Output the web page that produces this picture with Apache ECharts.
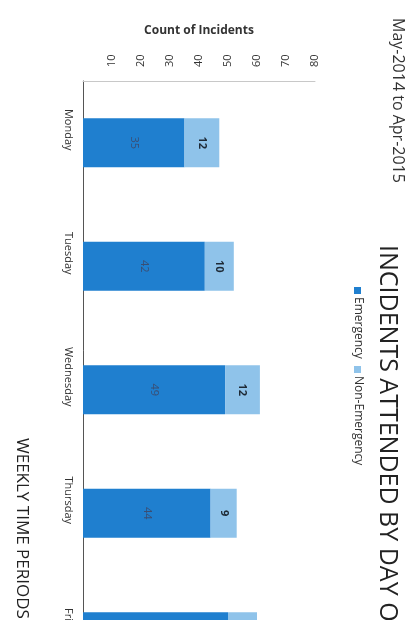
<!DOCTYPE html>
<html>
<head>
<meta charset="utf-8">
<script src="https://cdn.jsdelivr.net/npm/echarts@6/dist/echarts.min.js"></script>
<style>
html,body{margin:0;padding:0;background:#fff;}
#chart{width:414px;height:620px;}
</style>
</head>
<body>
<div id="chart"></div>
<script>
const categories = ['Monday', 'Tuesday', 'Wednesday', 'Thursday', 'Friday'];
const emergency = [35, 42, 49, 44, 50];
const nonEmergency = [12, 10, 12, 9, 10];
const valueMin = 0, valueMax = 80, valueStep = 10;
const titleText = 'INCIDENTS ATTENDED BY DAY OF WEEK';
const subtitleText = 'May-2014 to Apr-2015';
const valueAxisName = 'Count of Incidents';
const categoryAxisName = 'WEEKLY TIME PERIODS';
const seriesNames = ['Emergency', 'Non-Emergency'];
const colors = ['#1f7fcf', '#8fc3ea'];

const chart = echarts.init(document.getElementById('chart'));
const FONT = '"Open Sans", sans-serif';
const CW = -Math.PI / 2;

chart.setOption({
  animation: false,
  backgroundColor: '#ffffff',
  grid: { left: 83, top: 81, width: 232, height: 617.5, containLabel: false, outerBoundsMode: 'none' },
  xAxis: {
    type: 'value', position: 'top', min: valueMin, max: valueMax, interval: valueStep,
    name: valueAxisName, nameLocation: 'middle', nameGap: 44,
    nameTextStyle: { fontFamily: FONT, fontSize: 12, fontWeight: 'bold', color: '#333' },
    axisLine: { show: true, lineStyle: { color: '#c8c8c8', width: 1 } },
    axisTick: { show: false },
    splitLine: { show: false },
    axisLabel: {
      rotate: -90, margin: 14, fontFamily: FONT, fontSize: 11, color: '#333',
      formatter: v => (v === 0 ? '' : String(v))
    }
  },
  yAxis: {
    type: 'category', data: categories, inverse: true,
    axisLine: { show: true, lineStyle: { color: '#555', width: 1 } },
    axisTick: { show: false },
    axisLabel: { rotate: -90, margin: 9, fontFamily: FONT, fontSize: 11, color: '#333', padding: [0, 26, 0, 0] }
  },
  series: [
    {
      name: seriesNames[0], type: 'bar', stack: 'total', data: emergency, barWidth: 49,
      itemStyle: { color: colors[0] },
      label: { show: true, position: 'inside', rotate: -90, fontFamily: FONT, fontSize: 11, color: '#3a4e74' }
    },
    {
      name: seriesNames[1], type: 'bar', stack: 'total', data: nonEmergency, barWidth: 49,
      itemStyle: { color: colors[1] },
      label: { show: true, position: 'inside', rotate: -90, fontFamily: FONT, fontSize: 11, fontWeight: 'bold', color: '#1e2a36' }
    }
  ],
  graphic: [
    { type: 'text', x: 398, y: 18, rotation: CW,
      style: { text: subtitleText, font: '16px ' + FONT, fill: '#333', textAlign: 'left', textVerticalAlign: 'middle' } },
    { type: 'text', x: 387, y: 245, rotation: CW,
      style: { text: titleText, font: '25px ' + FONT, fill: '#222', textAlign: 'left', textVerticalAlign: 'middle' } },
    { type: 'rect', x: 354, y: 287, shape: { width: 7, height: 7 }, style: { fill: colors[0] } },
    { type: 'text', x: 358, y: 297, rotation: CW,
      style: { text: seriesNames[0], font: '12px ' + FONT, fill: '#333', textAlign: 'left', textVerticalAlign: 'middle' } },
    { type: 'rect', x: 354, y: 366, shape: { width: 7, height: 7 }, style: { fill: colors[1] } },
    { type: 'text', x: 358, y: 376, rotation: CW,
      style: { text: seriesNames[1], font: '12px ' + FONT, fill: '#333', textAlign: 'left', textVerticalAlign: 'middle' } },
    { type: 'text', x: 22, y: 438, rotation: CW,
      style: { text: categoryAxisName, font: '17px ' + FONT, fill: '#222', textAlign: 'left', textVerticalAlign: 'middle' } }
  ]
});
</script>
</body>
</html>
